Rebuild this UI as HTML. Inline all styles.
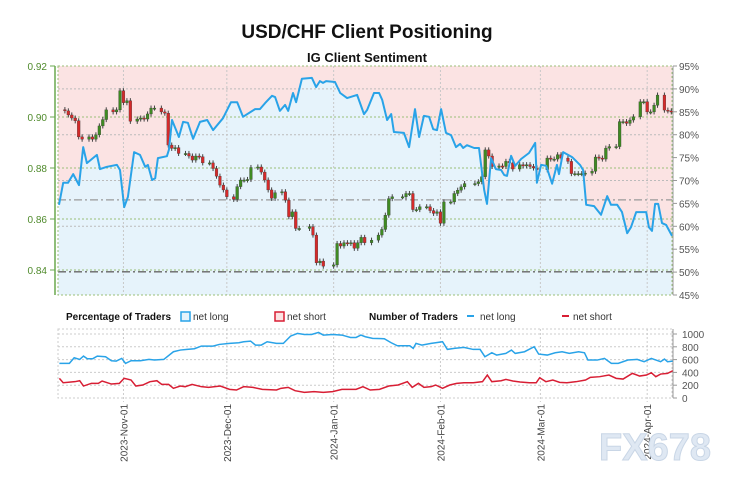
<!DOCTYPE html>
<html><head><meta charset="utf-8">
<style>
body{margin:0;background:#fff;width:734px;height:487px;overflow:hidden;font-family:"Liberation Sans",sans-serif}
svg{display:block}
</style></head>
<body>
<svg id="c" width="734" height="487" xmlns="http://www.w3.org/2000/svg">
<text x="367" y="38" text-anchor="middle" font-size="19" font-weight="bold" fill="#111">USD/CHF Client Positioning</text>
<text x="367" y="62" text-anchor="middle" font-size="13" font-weight="bold" fill="#111">IG Client Sentiment</text>
<g id="main"></g>
<g id="legend">
<text x="66" y="320" font-size="10" font-weight="bold" fill="#111">Percentage of Traders</text>
<rect x="181" y="312" width="9" height="9" fill="#e6f3fb" stroke="#29a3e8" stroke-width="1.5"/>
<text x="193" y="320" font-size="10" fill="#333">net long</text>
<rect x="275" y="312" width="9" height="9" fill="#fbe3e3" stroke="#d81e34" stroke-width="1.5"/>
<text x="287" y="320" font-size="10" fill="#333">net short</text>
<text x="369" y="320" font-size="10" font-weight="bold" fill="#111">Number of Traders</text>
<line x1="467" y1="316" x2="474" y2="316" stroke="#29a3e8" stroke-width="2"/>
<text x="480" y="320" font-size="10" fill="#333">net long</text>
<line x1="562" y1="316" x2="569" y2="316" stroke="#d81e34" stroke-width="2"/>
<text x="573" y="320" font-size="10" fill="#333">net short</text>
</g>
<g id="bottom"></g>
<text x="655" y="460" text-anchor="middle" font-size="38" font-weight="bold" fill="#dfe8f3" stroke="#c9d6e6" stroke-width="1">FX678</text>
</svg>
<script>
// ---- data (day offset from 2023-10-13) ----
const sentDays=[0.3,1.5,2.9,4.4,6.1,7.3,8.4,11.3,12.2,14.2,17.1,18,19.2,20.3,22.1,23.8,25.3,26.1,27.3,28.2,29,31.6,32.2,33.1,35.1,36.3,37.7,39.2,41.2,43.3,45,47.9,50.2,52,53.7,57.2,58.6,60.1,62.1,63,64.4,65.9,66.8,68.2,69.1,70.8,73.7,74.9,76,76.9,77.8,80.4,81.9,83.9,86.8,88.8,89.7,91.7,93.2,94.1,95.5,96.7,97.5,100.4,101.9,103.6,104.8,106.2,107.7,108.9,110,111.2,112.6,114.1,115.5,116.7,117.6,118.7,120.8,122.2,123.7,124.5,125.7,127.1,128.6,129.5,130.3,131.5,132.7,134.4,136.7,137.6,138.5,139,140.2,141.7,143.4,144.8,145.4,146.6,149.2,151.5,152.4,153.3,155.6,157.6,159.4,160.5,162.3,163.7,165.2,166.3,167.8,170.7,171.5,172.4,173.3,174.2,175.3,176.5,178.2];
const sentLong=[64.7,69.5,69.5,71.4,69,77.3,73.8,75.6,72.5,73,73.4,72.3,64.2,66.4,76.2,75.6,73,73.4,70.1,70.5,74.9,75.3,76.7,83.2,79.5,82.8,82.6,79.1,82.8,83.2,81,83.6,87.1,87.1,83.9,85.6,85.6,86.9,88.5,88.2,85.2,86.5,85.2,89.1,87.1,92.2,92.4,90.4,91.7,91.3,91.7,91.5,89.1,88,88.7,84.5,85.4,89.1,89.1,87.6,83.2,84.5,80.6,80.4,77.3,85.6,79.5,84.1,83.9,81.2,81,85.6,80.4,79.9,77.3,78,77.1,77.7,77.1,77.1,67.9,64.9,74.9,72.5,72.3,71.2,71,75.4,73.2,74.7,76,77.1,78.2,69.5,73.4,73.2,69.3,73.4,71.4,76.2,75.1,73.4,72.3,64.7,64.4,62.5,66.6,64.7,64.7,63.1,58.5,59.8,63.1,63.1,59.8,59,64.9,64.9,60.7,60.3,57.9];
const candleDays=[2,3,4,5,6,7,9,10,11,12,13,14,16,17,18,19,20,21,23,24,25,26,27,28,30,31,32,33,34,35,37,38,39,40,41,42,44,45,46,47,48,49,51,52,53,54,55,56,58,59,60,61,62,63,65,66,67,68,69,70,73,74,75,76,77,80,81,82,83,84,85,86,87,88,89,91,93,94,95,96,97,100,101,102,103,104,105,107,108,109,110,111,112,114,115,116,117,118,121,122,123,124,125,126,128,129,130,131,132,134,135,136,137,138,139,142,143,144,145,146,148,149,150,151,152,153,155,156,157,158,159,160,162,163,164,165,166,167,169,170,171,172,173,174,176,177,178];
const candleClose=[0.9024,0.9008,0.8996,0.8985,0.8922,0.8913,0.8922,0.8913,0.893,0.8965,0.899,0.9028,0.902,0.9028,0.9103,0.9056,0.9064,0.8983,0.8992,0.8996,0.8992,0.9012,0.9035,0.9035,0.902,0.9015,0.889,0.8877,0.888,0.8857,0.8857,0.8847,0.8831,0.8847,0.8844,0.882,0.882,0.8798,0.8768,0.8733,0.8714,0.8687,0.8677,0.8727,0.8753,0.8753,0.8755,0.8802,0.8804,0.8784,0.8753,0.8714,0.8681,0.8703,0.8707,0.8674,0.8609,0.8628,0.8563,0.8563,0.857,0.8537,0.8428,0.8435,0.8415,0.842,0.8504,0.8494,0.8507,0.8504,0.8507,0.8485,0.8507,0.8528,0.8507,0.8517,0.8537,0.8559,0.8615,0.868,0.8687,0.8687,0.87,0.87,0.8637,0.8637,0.8648,0.8648,0.8633,0.8622,0.8628,0.8583,0.8667,0.8667,0.87,0.8713,0.8726,0.8739,0.8739,0.8746,0.8766,0.8871,0.8847,0.8806,0.8808,0.8806,0.8826,0.882,0.8796,0.8813,0.8808,0.8813,0.8806,0.88,0.8793,0.8839,0.8835,0.8835,0.8852,0.8839,0.8826,0.8778,0.8778,0.8778,0.8778,0.878,0.8787,0.8843,0.8839,0.8835,0.8878,0.8884,0.8884,0.8982,0.8982,0.8975,0.8988,0.9001,0.906,0.906,0.902,0.902,0.9046,0.9086,0.9027,0.9024,0.902,0.9029,0.9056,0.9053,0.9033];
const longDays=[0.4,3.3,4.7,6.3,7.4,8.5,10.1,11.4,13.8,15.5,16.9,18.5,19.6,21.2,23.9,26.4,28,30.7,33.5,35.5,37.5,39.6,41.6,45,46.8,49.8,52.5,53.9,55.9,57.3,59,60.7,63.4,65.4,67.5,69.5,71.5,73.6,75.6,77,79.7,82.4,84.9,86.5,87.9,89.2,91.3,94.7,96.7,98.5,102.1,103.1,103.9,105.6,108.3,109.6,111.6,113,115,117.8,120.5,122.5,123.9,125.9,127.3,130,131.6,132.7,135.4,138.2,139.5,142,144.3,146.3,148.4,151.1,152.8,153.8,156.5,158.6,160.6,162.6,165.4,168.1,170.1,172.2,174.9,176,176.9,178.4];
const longCount=[541,541,629,603,655,614,614,655,645,582,577,619,541,582,582,603,593,603,723,749,759,770,811,811,837,853,863,879,889,827,827,879,853,853,967,1009,993,993,1024,983,993,983,946,946,983,957,931,926,863,816,816,775,853,827,853,863,879,759,775,790,759,759,645,707,671,697,749,697,723,801,686,671,707,723,697,723,707,593,593,619,541,541,593,603,567,619,567,608,567,577];
const shortDays=[0.4,1.5,4.9,6.3,7.4,9.7,11.7,12.8,15.5,17.8,19.2,21.2,22.6,24.6,26.7,28.7,30.1,32.1,33.5,35.5,36.9,38.9,41.6,43.7,47.1,49.8,51.8,53.9,56.6,59.3,63.4,64.7,66.8,68.8,71.5,74.3,77,79.7,82.4,86.5,88.5,90.6,93.3,96,98.7,101.4,102.8,104.6,106.2,108.3,109.6,111.6,113.7,115.7,117.8,120.5,123.2,124.6,125.9,128.6,130,132,134.1,136.8,138.8,139.8,141.6,143.6,145.6,147.7,150.4,153.1,154.5,157.2,159.9,162,164,166.7,168.8,170.8,172.2,173.5,174.9,176.9,178.4];
const shortCount=[307,239,255,270,187,229,229,265,218,229,307,281,187,203,255,270,213,213,151,187,177,213,177,166,187,135,125,177,166,135,125,151,166,114,88,99,88,99,135,135,177,125,135,187,203,255,166,229,166,177,203,151,203,229,239,239,255,359,255,270,291,265,250,239,239,317,255,281,244,239,255,281,322,333,359,307,296,385,343,359,395,333,374,385,426];
const dateTicks=[19,49,80,111,140,171];
const dateLabels=["2023-Nov-01","2023-Dec-01","2024-Jan-01","2024-Feb-01","2024-Mar-01","2024-Apr-01"];
const priceTicks=[0.84,0.86,0.88,0.90,0.92];
const pctTicks=[45,50,55,60,65,70,75,80,85,90,95];
const countTicks=[0,200,400,600,800,1000];

// ---- scales ----
const X0=58,X1=672,D1=178.2;
const x=d=>X0+(X1-X0)*d/D1;
const yP=p=>66+(0.92-p)*2550;
const yS=v=>66+(95-v)*(229/50);
const yC=v=>398-v*0.064;
const NS="http://www.w3.org/2000/svg";
function mk(parent,tag,attrs){const e=document.createElementNS(NS,tag);for(const k in attrs)e.setAttribute(k,attrs[k]);parent.appendChild(e);return e;}
const main=document.getElementById('main'),bot=document.getElementById('bottom');

// sentiment fills
let pts=sentDays.map((d,i)=>x(d).toFixed(1)+','+yS(sentLong[i]).toFixed(1)).join(' ');
const pinkPoly=mk(main,'polygon',{points:X0+',66 '+X1+',66 '+x(sentDays[sentDays.length-1])+','+yS(sentLong[sentLong.length-1])+' '+sentDays.slice().reverse().map((d,j)=>{const i=sentDays.length-1-j;return x(d)+','+yS(sentLong[i]);}).join(' ')+' '+X0+','+yS(sentLong[0]),fill:'#fbe3e3'});


const bluePoly=mk(main,'polygon',{points:X0+',295 '+pts+' '+X1+',295',fill:'#e6f3fb'});



// gridlines
priceTicks.forEach(p=>{const l=mk(main,'line',{x1:X0,x2:X1,y1:yP(p),y2:yP(p),stroke:'#9bbf7a','stroke-dasharray':'2,2','stroke-width':1});

});
[60,70,80,90].forEach(v=>{const l=mk(main,'line',{x1:X0,x2:X1,y1:yS(v),y2:yS(v),stroke:'#bbb','stroke-dasharray':'2,2','stroke-width':1});

});
dateTicks.forEach(d=>{const l=mk(main,'line',{x1:x(d),x2:x(d),y1:66,y2:295,stroke:'#c8c8c8','stroke-dasharray':'2,2'});

});
let l1=mk(main,'line',{x1:X0,x2:X1,y1:yP(0.8675),y2:yP(0.8675),stroke:'#999','stroke-dasharray':'8,3,2,3','stroke-width':1.2});


let l2=mk(main,'line',{x1:X0,x2:X1,y1:yP(0.8393),y2:yP(0.8393),stroke:'#666','stroke-dasharray':'8,3,2,3','stroke-width':1.4});


let bx=mk(main,'rect',{x:X0,y:66,width:X1-X0,height:229,fill:'none',stroke:'#9bbf7a','stroke-dasharray':'2,2'});



// candles
candleDays.forEach((d,i)=>{
  const c=candleClose[i],o=i?candleClose[i-1]:c+0.0005;
  const up=c>=o, cx=x(d);
  const hi=Math.max(o,c)+0.001, lo=Math.min(o,c)-0.001;
  const g=mk(main,'g',{});
  
  
  mk(g,'line',{x1:cx,x2:cx,y1:yP(hi),y2:yP(lo),stroke:'#444','stroke-width':1});
  const top=yP(Math.max(o,c)),h=Math.max(1.2,yP(Math.min(o,c))-top);
  mk(g,'rect',{x:cx-1.4,y:top,width:2.8,height:h,fill:up?'#3f8a22':'#d42a2a',stroke:'#333','stroke-width':0.3});
});

// sentiment line
const sl=mk(main,'polyline',{points:pts,fill:'none',stroke:'#29a3e8','stroke-width':2,'stroke-linejoin':'round'});



// axes
const la=mk(main,'line',{x1:55,x2:55,y1:66,y2:295,stroke:'#6aa84f','stroke-width':1.5});


priceTicks.forEach(p=>{mk(main,'line',{x1:50,x2:55,y1:yP(p),y2:yP(p),stroke:'#6aa84f'});
const t=mk(main,'text',{x:47,y:yP(p)+4,'text-anchor':'end','font-size':10,fill:'#4f8a2b'});t.textContent=p.toFixed(2);

});
const ra=mk(main,'line',{x1:673,x2:673,y1:66,y2:295,stroke:'#999'});


pctTicks.forEach(v=>{mk(main,'line',{x1:673,x2:677,y1:yS(v),y2:yS(v),stroke:'#999'});
const t=mk(main,'text',{x:679,y:yS(v)+4,'font-size':10,fill:'#555'});t.textContent=v+'%';

});

// bottom chart
const bb=mk(bot,'rect',{x:X0,y:329,width:X1-X0,height:69,fill:'none',stroke:'#ccc','stroke-dasharray':'2,2'});


countTicks.forEach(v=>{if(v>0&&v<1000||v==1000){const l=mk(bot,'line',{x1:X0,x2:X1,y1:yC(v),y2:yC(v),stroke:'#ccc','stroke-dasharray':'2,2'});

}
mk(bot,'line',{x1:673,x2:677,y1:yC(v),y2:yC(v),stroke:'#999'});
const t=mk(bot,'text',{x:682,y:yC(v)+4,'font-size':10,fill:'#555'});t.textContent=v;

});
const rb=mk(bot,'line',{x1:673,x2:673,y1:329,y2:398,stroke:'#999'});


dateTicks.forEach((d,i)=>{const l=mk(bot,'line',{x1:x(d),x2:x(d),y1:329,y2:402,stroke:'#ccc','stroke-dasharray':'2,2'});


const t=mk(bot,'text',{x:0,y:0,'font-size':10,fill:'#444','text-anchor':'end',transform:`translate(${x(d)+4},404) rotate(-90)`});t.textContent=dateLabels[i];

});
const ll=mk(bot,'polyline',{points:longDays.map((d,i)=>x(d)+','+yC(longCount[i])).join(' '),fill:'none',stroke:'#29a3e8','stroke-width':1.5});


const sh=mk(bot,'polyline',{points:shortDays.map((d,i)=>x(d)+','+yC(shortCount[i])).join(' '),fill:'none',stroke:'#d81e34','stroke-width':1.5});


</script>
</body></html>
